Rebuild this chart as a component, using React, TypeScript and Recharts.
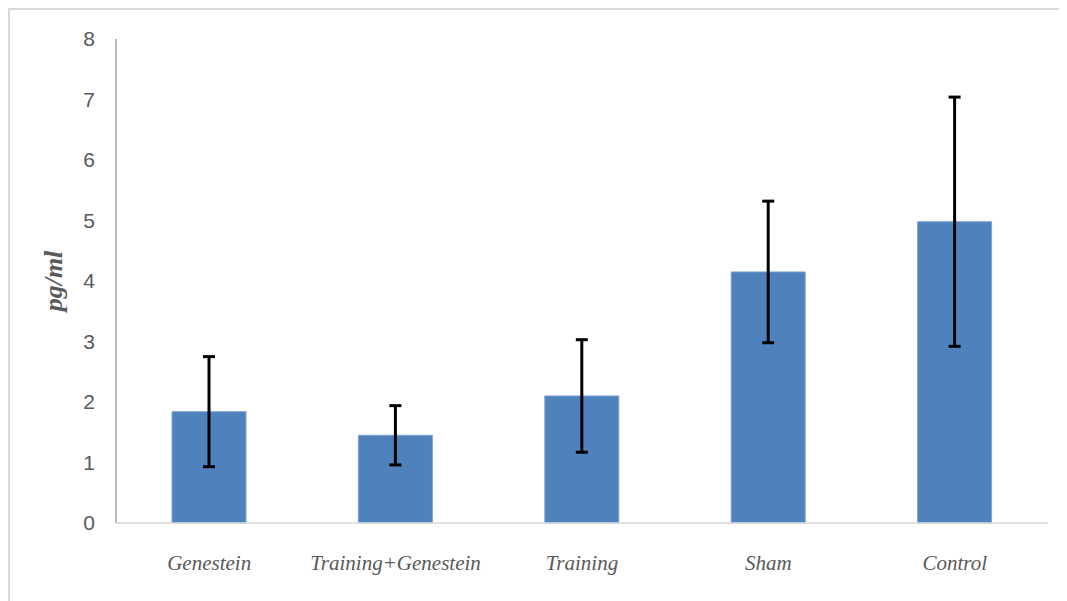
import React from 'react';
import { BarChart, Bar, XAxis, YAxis, ErrorBar, Label } from 'recharts';

const categories = ['Genestein', 'Training+Genestein', 'Training', 'Sham', 'Control'];
const means = [1.84, 1.45, 2.1, 4.15, 4.98];
const errors = [0.91, 0.49, 0.93, 1.17, 2.06];
const yTicks = [0, 1, 2, 3, 4, 5, 6, 7, 8];

const data = categories.map((name, i) => ({ name, value: means[i], err: errors[i] }));

const YLabel = (props: any) => {
  const vb = props.viewBox || {};
  const cx = vb.x + 43;
  const cy = vb.y + vb.height / 2;
  return (
    <text
      x={cx}
      y={cy}
      transform={`rotate(-90, ${cx}, ${cy})`}
      textAnchor="middle"
      dominantBaseline="central"
      fontFamily="'Liberation Serif', serif"
      fontStyle="italic"
      fontWeight="bold"
      fontSize={26}
      fill="#595959"
    >
      pg/ml
    </text>
  );
};

export default function App() {
  return (
    <div style={{ position: 'relative' }}>
      <style>{`html, body { overflow: hidden; }`}</style>
      <div
        style={{
          position: 'relative',
          width: 1070,
          height: 600,
          borderTop: '2px solid #d9d9d9',
          borderLeft: '2px solid #d9d9d9',
          background: '#fff',
        }}
      >
        <BarChart
          width={1057}
          height={583}
          data={data}
          margin={{ top: 29, right: 19, bottom: 0, left: 0 }}
          barCategoryGap={0}
        >
          <XAxis
            dataKey="name"
            height={70}
            axisLine={{ stroke: '#d9d9d9', strokeWidth: 1.5 }}
            tickLine={false}
            tickSize={0}
            tickMargin={32}
            interval={0}
            tick={{
              fontFamily: "'Liberation Serif', serif",
              fontStyle: 'italic',
              fontSize: 21,
              fill: '#595959',
            }}
          />
          <YAxis
            width={106}
            domain={[0, 8]}
            ticks={yTicks}
            interval={0}
            axisLine={{ stroke: '#a6a6a6', strokeWidth: 1.5 }}
            tickLine={false}
            tickSize={0}
            tickMargin={21}
            tick={{
              fontFamily: "'Liberation Sans Narrow', 'Liberation Sans', sans-serif",
              fontSize: 21,
              fill: '#595959',
            }}
          >
            <Label content={<YLabel />} position="insideLeft" />
          </YAxis>
          <Bar
            dataKey="value"
            fill="#4f81bd"
            stroke="#7fa3d2"
            strokeWidth={1}
            barSize={74}
            isAnimationActive={false}
          >
            <ErrorBar dataKey="err" stroke="#000" strokeWidth={3} width={6} />
          </Bar>
        </BarChart>
      </div>
    </div>
  );
}
